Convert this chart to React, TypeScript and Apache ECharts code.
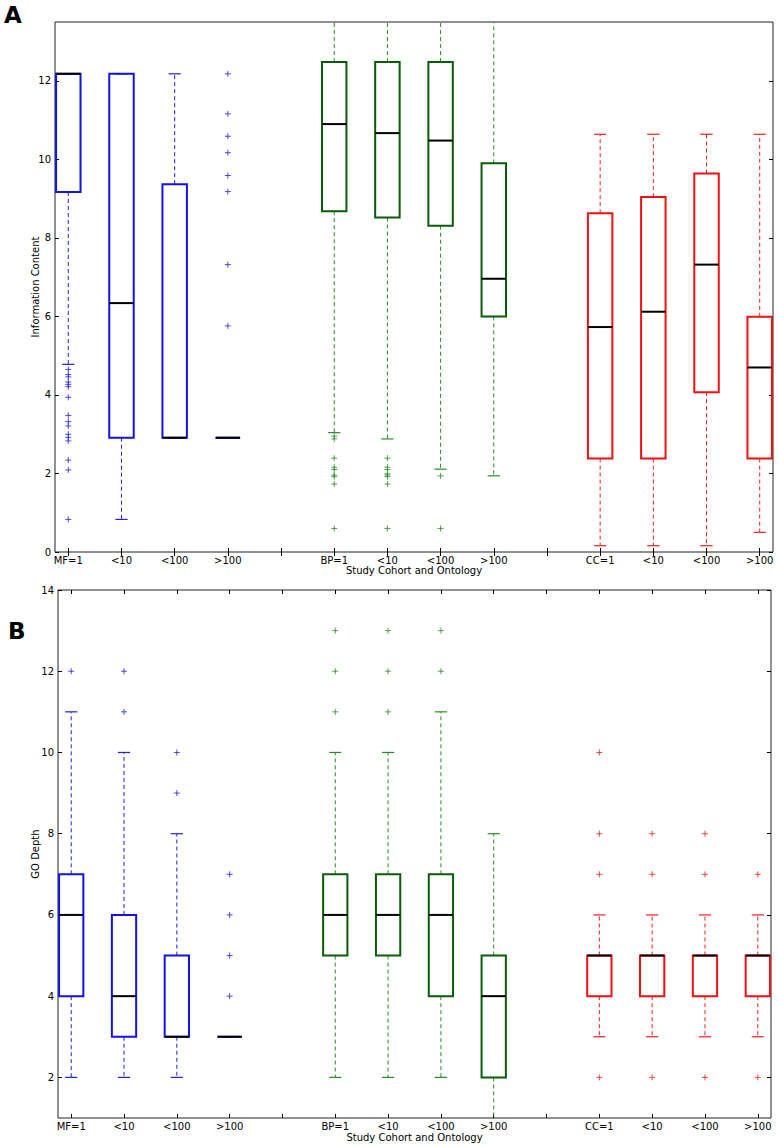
import React, { useEffect, useRef } from "react";
import * as echarts from "echarts";

const CATEGORIES = ["MF=1", "<10", "<100", ">100", "BP=1", "<10", "<100", ">100", "CC=1", "<10", "<100", ">100"];
const POSITIONS = [1, 2, 3, 4, 6, 7, 8, 9, 11, 12, 13, 14];
const TICK_POSITIONS = [1, 2, 3, 4, 5, 6, 7, 8, 9, 10, 11, 12, 13, 14];

// Panel A: Information Content
const IC_LOW = [4.78, 0.83, 2.91, 2.91, 3.04, 2.88, 2.11, 1.94, 0.16, 0.16, 0.16, 0.5];
const IC_Q1 = [9.17, 2.91, 2.91, 2.91, 8.68, 8.52, 8.31, 6.0, 2.38, 2.38, 4.07, 2.38];
const IC_MEDIAN = [12.18, 6.34, 2.91, 2.91, 10.9, 10.67, 10.48, 6.96, 5.73, 6.12, 7.32, 4.7];
const IC_Q3 = [12.18, 12.18, 9.37, 2.91, 12.48, 12.48, 12.48, 9.9, 8.63, 9.04, 9.64, 5.99];
const IC_HIGH = [12.18, 12.18, 12.18, 2.91, 14.5, 14.5, 14.5, 14.5, 10.64, 10.64, 10.64, 10.64];
const IC_OUTLIERS = [
  [4.65, 4.52, 4.46, 4.33, 4.27, 4.21, 3.94, 3.48, 3.32, 3.21, 3.0, 2.92, 2.83, 2.34, 2.09, 0.83],
  [],
  [],
  [12.18, 11.16, 10.59, 10.17, 9.59, 9.18, 7.32, 5.76],
  [2.95, 2.88, 2.39, 2.16, 2.1, 1.96, 1.92, 1.73, 0.6],
  [2.39, 2.16, 2.1, 1.99, 1.96, 1.92, 1.73, 0.6],
  [1.94, 0.6],
  [],
  [],
  [],
  [],
  [],
];
const IC_TICKS = [0, 2, 4, 6, 8, 10, 12];

// Panel B: GO Depth
const GD_LOW = [2, 2, 2, 3, 2, 2, 2, 0, 3, 3, 3, 3];
const GD_Q1 = [4, 3, 3, 3, 5, 5, 4, 2, 4, 4, 4, 4];
const GD_MEDIAN = [6, 4, 3, 3, 6, 6, 6, 4, 5, 5, 5, 5];
const GD_Q3 = [7, 6, 5, 3, 7, 7, 7, 5, 5, 5, 5, 5];
const GD_HIGH = [11, 10, 8, 3, 10, 10, 11, 8, 6, 6, 6, 6];
const GD_OUTLIERS = [
  [12],
  [11, 12],
  [9, 10],
  [4, 5, 6, 7],
  [11, 12, 13],
  [11, 12, 13],
  [12, 13],
  [],
  [2, 7, 8, 10],
  [2, 7, 8],
  [2, 7, 8],
  [2, 7],
];
const GD_TICKS = [2, 4, 6, 8, 10, 12, 14];

const BOX_COLORS = ["#1212e6", "#0a5c0a", "#f01010"];
const WHISKER_COLORS = ["#2020e0", "#2a8a2a", "#f02020"];
const FONT = "DejaVu Sans";

function groupOf(i: number) {
  return Math.floor(i / 4);
}

function labelFor(v: number) {
  const idx = POSITIONS.indexOf(Math.round(v));
  return idx >= 0 ? CATEGORIES[idx] : "";
}

function boxRows(low: number[], q1: number[], med: number[], q3: number[], high: number[]) {
  return POSITIONS.map((p, i) => [p, low[i], q1[i], med[i], q3[i], high[i], groupOf(i)]);
}

function flierPoints(outliers: number[][]) {
  const pts: any[] = [];
  outliers.forEach((list, i) => {
    list.forEach((v) => {
      pts.push({
        value: [POSITIONS[i], v],
        itemStyle: { color: WHISKER_COLORS[groupOf(i)], borderColor: WHISKER_COLORS[groupOf(i)], borderWidth: 1 },
      });
    });
  });
  return pts;
}

function renderBox(params: any, api: any) {
  const pos = api.value(0);
  const low = api.value(1);
  const q1 = api.value(2);
  const med = api.value(3);
  const q3 = api.value(4);
  const high = api.value(5);
  const g = api.value(6);
  const cs = params.coordSys;
  const top = cs.y;
  const bottom = cs.y + cs.height;
  const clampY = (y: number) => Math.max(top, Math.min(bottom, y));
  const c = api.coord([pos, med]);
  const xc = c[0];
  const halfW = api.coord([pos + 0.23, med])[0] - xc;
  const capHalf = halfW / 2;
  const yLow = api.coord([pos, low])[1];
  const yQ1 = api.coord([pos, q1])[1];
  const yMed = c[1];
  const yQ3 = api.coord([pos, q3])[1];
  const yHigh = api.coord([pos, high])[1];
  const boxColor = BOX_COLORS[g];
  const wColor = WHISKER_COLORS[g];
  const children: any[] = [];
  const dash = { stroke: wColor, lineWidth: 1, lineDash: [4, 3] };
  if (yHigh < yQ3) {
    children.push({ type: "line", shape: { x1: xc, y1: yQ3, x2: xc, y2: clampY(yHigh) }, style: dash });
  }
  if (yLow > yQ1) {
    children.push({ type: "line", shape: { x1: xc, y1: yQ1, x2: xc, y2: clampY(yLow) }, style: dash });
  }
  if (yHigh >= top && yHigh <= bottom) {
    children.push({
      type: "line",
      shape: { x1: xc - capHalf, y1: yHigh, x2: xc + capHalf, y2: yHigh },
      style: { stroke: wColor, lineWidth: 1.2 },
    });
  }
  if (yLow >= top && yLow <= bottom) {
    children.push({
      type: "line",
      shape: { x1: xc - capHalf, y1: yLow, x2: xc + capHalf, y2: yLow },
      style: { stroke: wColor, lineWidth: 1.2 },
    });
  }
  const x0 = Math.max(cs.x, xc - halfW);
  children.push({
    type: "rect",
    shape: { x: x0, y: yQ3, width: xc + halfW - x0, height: yQ1 - yQ3 },
    style: { fill: "none", stroke: boxColor, lineWidth: 2 },
  });
  children.push({
    type: "line",
    shape: { x1: x0, y1: yMed, x2: xc + halfW, y2: yMed },
    style: { stroke: "#000", lineWidth: 2 },
  });
  return { type: "group", children };
}

function makeXAxes(gridIndex: number, nameGap: number) {
  const tick = { show: true, inside: true, length: 4, lineStyle: { color: "#000", width: 1 }, customValues: TICK_POSITIONS };
  return [
    {
      type: "value",
      gridIndex,
      position: "bottom",
      min: 0.75,
      max: 14.25,
      axisLine: { show: false },
      splitLine: { show: false },
      axisTick: tick,
      axisLabel: {
        customValues: POSITIONS,
        formatter: (v: number) => labelFor(v),
        fontSize: 10,
        fontFamily: FONT,
        color: "#000",
        margin: 3,
      },
      name: "Study Cohort and Ontology",
      nameLocation: "middle",
      nameGap,
      nameTextStyle: { fontSize: 10, fontFamily: FONT, color: "#000" },
    },
    {
      type: "value",
      gridIndex,
      position: "top",
      min: 0.75,
      max: 14.25,
      axisLine: { show: false },
      splitLine: { show: false },
      axisTick: tick,
      axisLabel: { show: false },
    },
  ];
}

function makeYAxes(gridIndex: number, min: number, max: number, ticks: number[], name: string, nameGap: number) {
  const tick = { show: true, inside: true, length: 4, lineStyle: { color: "#000", width: 1 }, customValues: ticks };
  return [
    {
      type: "value",
      gridIndex,
      position: "left",
      min,
      max,
      axisLine: { show: false },
      splitLine: { show: false },
      axisTick: tick,
      axisLabel: { customValues: ticks, fontSize: 10, fontFamily: FONT, color: "#000", margin: 4 },
      name,
      nameLocation: "middle",
      nameGap,
      nameMoveOverlap: false,
      nameTextStyle: { fontSize: 10, fontFamily: FONT, color: "#000" },
    },
    {
      type: "value",
      gridIndex,
      position: "right",
      min,
      max,
      axisLine: { show: false },
      splitLine: { show: false },
      axisTick: tick,
      axisLabel: { show: false },
    },
  ];
}

const PLUS = "path://M5,0L5,10M0,5L10,5";

export default function App() {
  const ref = useRef<HTMLDivElement>(null);
  useEffect(() => {
    document.body.style.margin = "0";
    if (!ref.current) return;
    const chart = echarts.init(ref.current, null, { renderer: "svg" });
    const gridStyle = { show: true, borderColor: "#222", borderWidth: 1, backgroundColor: "transparent" };
    chart.setOption({
      animation: false,
      backgroundColor: "#fff",
      grid: [
        { ...gridStyle, left: 55, top: 22, right: 6, bottom: 595 },
        { ...gridStyle, left: 58, top: 590, right: 8, bottom: 29 },
      ],
      xAxis: [...makeXAxes(0, 13), ...makeXAxes(1, 14)],
      yAxis: [
        ...makeYAxes(0, 0, 13.5, IC_TICKS, "Information Content", 15),
        ...makeYAxes(1, 1, 14, GD_TICKS, "GO Depth", 18),
      ],
      graphic: [
        { type: "text", left: 4, top: 3, style: { text: "A", fontSize: 23, fontWeight: "bold", fontFamily: FONT, fill: "#000" } },
        { type: "text", left: 8, top: 619, style: { text: "B", fontSize: 23, fontWeight: "bold", fontFamily: FONT, fill: "#000" } },
      ],
      series: [
        {
          type: "custom",
          xAxisIndex: 0,
          yAxisIndex: 0,
          clip: true,
          renderItem: renderBox,
          encode: { x: 0, y: [1, 2, 3, 4, 5] },
          data: boxRows(IC_LOW, IC_Q1, IC_MEDIAN, IC_Q3, IC_HIGH),
          z: 2,
        },
        {
          type: "scatter",
          xAxisIndex: 0,
          yAxisIndex: 0,
          symbol: PLUS,
          symbolSize: 6,
          data: flierPoints(IC_OUTLIERS),
          z: 3,
        },
        {
          type: "custom",
          xAxisIndex: 2,
          yAxisIndex: 2,
          clip: true,
          renderItem: renderBox,
          encode: { x: 0, y: [1, 2, 3, 4, 5] },
          data: boxRows(GD_LOW, GD_Q1, GD_MEDIAN, GD_Q3, GD_HIGH),
          z: 2,
        },
        {
          type: "scatter",
          xAxisIndex: 2,
          yAxisIndex: 2,
          symbol: PLUS,
          symbolSize: 6,
          data: flierPoints(GD_OUTLIERS),
          z: 3,
        },
      ],
    });
    return () => chart.dispose();
  }, []);
  return <div ref={ref} style={{ width: 779, height: 1147 }} />;
}
